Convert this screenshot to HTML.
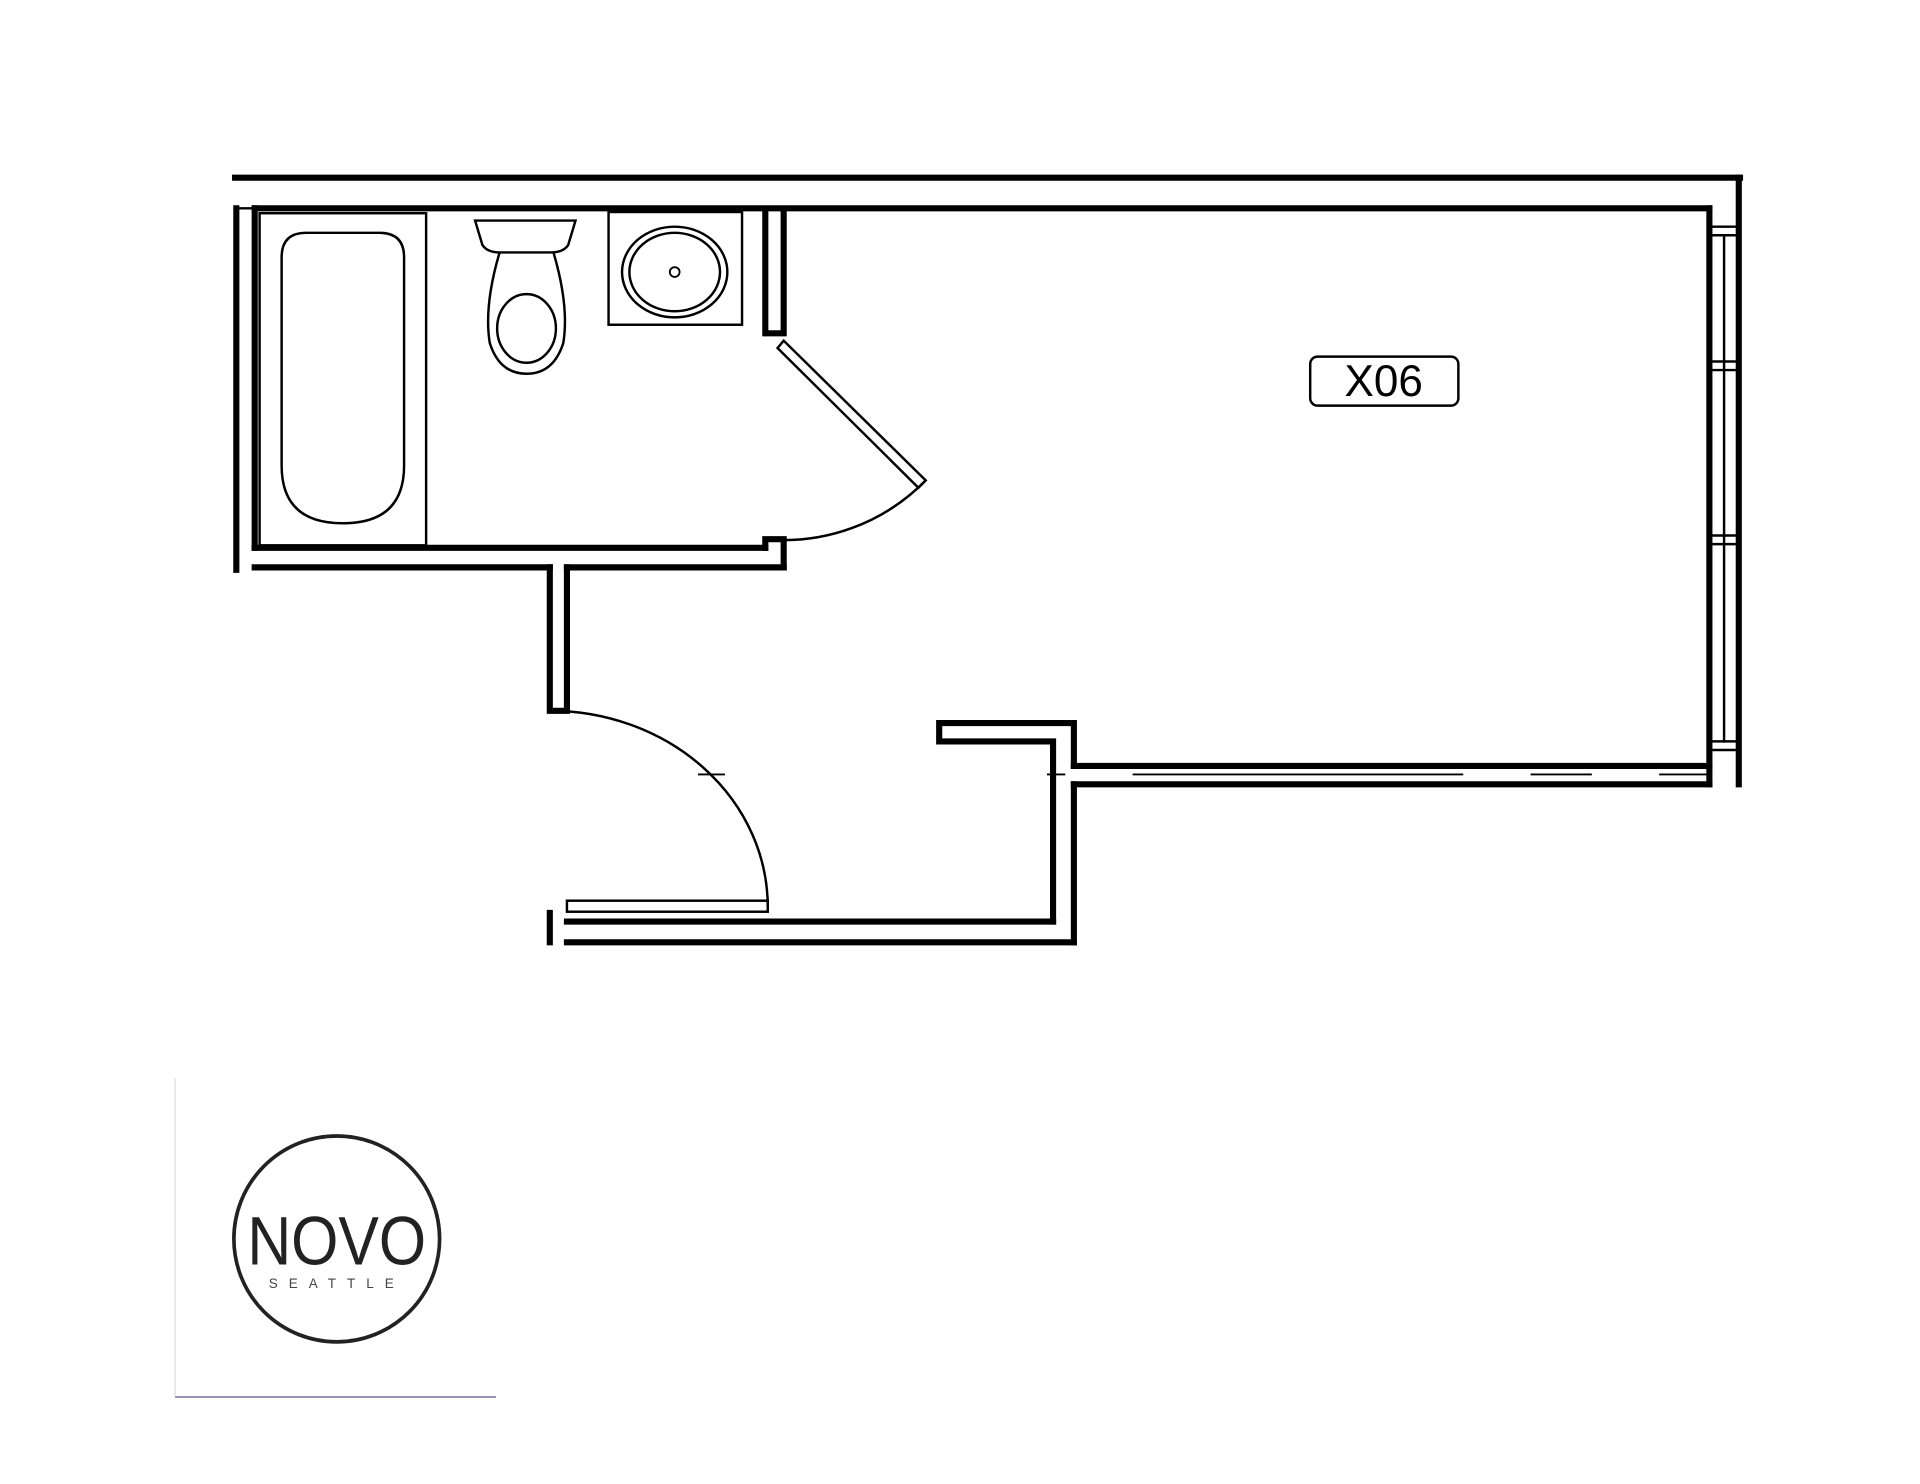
<!DOCTYPE html>
<html><head><meta charset="utf-8"><style>
html,body{margin:0;padding:0;background:#fff;}
svg{display:block}
</style></head><body>
<svg width="1920" height="1484" viewBox="0 0 1568 1211" preserveAspectRatio="none" xmlns="http://www.w3.org/2000/svg">
<rect width="1568" height="1211" fill="#fff"/>
<g stroke="#000" fill="none" stroke-width="5" stroke-linecap="square">
<line x1="192" y1="145" x2="1421" y2="145"/>
<line x1="208" y1="170" x2="1396" y2="170"/>
<line x1="193" y1="170" x2="193" y2="465"/>
<line x1="208" y1="170" x2="208" y2="447"/>
<line x1="193" y1="170" x2="208" y2="170" stroke-width="2"/>
<line x1="1396" y1="170" x2="1396" y2="640"/>
<line x1="1420" y1="145" x2="1420" y2="640"/>
<g stroke-width="2">
<line x1="1396" y1="185" x2="1420" y2="185"/>
<line x1="1396" y1="192" x2="1420" y2="192"/>
<line x1="1396" y1="295" x2="1420" y2="295"/>
<line x1="1396" y1="302" x2="1420" y2="302"/>
<line x1="1396" y1="437" x2="1420" y2="437"/>
<line x1="1396" y1="444" x2="1420" y2="444"/>
<line x1="1396" y1="605" x2="1420" y2="605"/>
<line x1="1396" y1="612" x2="1420" y2="612"/>
<line x1="1408" y1="192" x2="1408" y2="605"/>
</g>
<line x1="208" y1="447" x2="625" y2="447"/>
<line x1="208" y1="463" x2="449" y2="463"/>
<line x1="463" y1="463" x2="640" y2="463"/>
<polyline points="625,172 625,272 640,272 640,172"/>
<polyline points="625,447 625,440 640,440 640,463"/>
<polyline points="449,463 449,580 463,580 463,463"/>
<line x1="463" y1="752" x2="860" y2="752"/>
<line x1="463" y1="769" x2="877" y2="769"/>
<line x1="449" y1="745" x2="449" y2="769"/>
<polyline points="860,752 860,605 767,605 767,590 877,590 877,625"/>
<line x1="877" y1="640" x2="877" y2="769"/>
<line x1="877" y1="625" x2="1396" y2="625"/>
<line x1="877" y1="640" x2="1396" y2="640"/>
</g>
<g stroke="#000" fill="none" stroke-width="1.5">
<line x1="925" y1="632" x2="1195" y2="632"/>
<line x1="1250" y1="632" x2="1300" y2="632"/>
<line x1="1355" y1="632" x2="1396" y2="632"/>
<line x1="855" y1="632" x2="870" y2="632"/>
<line x1="570" y1="632" x2="592" y2="632"/>
<rect x="463" y="735" width="164" height="9" stroke-width="2"/>
<path d="M627,740 A178,160 0 0 0 449,580" stroke-width="2"/>
<polygon points="640,278 635,284 750,398 756,392" stroke-width="2"/>
<path d="M756,392 A162,162 0 0 1 625,440" stroke-width="2"/>
<rect x="212" y="174" width="136" height="271" stroke-width="2"/>
<path d="M250,190 H310 Q330,190 330,210 V380 Q330,427 280,427 Q230,427 230,380 V210 Q230,190 250,190 Z" stroke-width="2"/>
<path d="M388,180 H470 L464,200 Q460,206 450,206 H408 Q398,206 394,200 Z" stroke-width="2"/>
<path d="M408,206 Q395,250 400,280 Q408,305 430,305 Q452,305 460,280 Q465,250 452,206" stroke-width="2"/>
<ellipse cx="430" cy="268" rx="24" ry="28" stroke-width="2"/>
<rect x="497" y="173" width="109" height="92" stroke-width="2"/>
<ellipse cx="551" cy="222" rx="43" ry="37" stroke-width="2"/>
<ellipse cx="551" cy="222" rx="37" ry="32" stroke-width="2"/>
<circle cx="551" cy="222" r="4" stroke-width="1.5"/>
<rect x="1070" y="291" width="121" height="40" rx="6" stroke-width="2"/>
</g>
<text x="1130" y="323" text-anchor="middle" font-family="Liberation Sans, sans-serif" font-size="36">X06</text>
<line x1="143" y1="880" x2="143" y2="1140" stroke="#ddd" stroke-width="1"/>
<line x1="143" y1="1140" x2="405" y2="1140" stroke="#8a80b0" stroke-width="1.5"/>
<circle cx="275" cy="1011" r="84" fill="none" stroke="#222" stroke-width="3"/>
<text x="275" y="1032" text-anchor="middle" font-family="Liberation Sans, sans-serif" font-size="56" fill="#222" textLength="146" lengthAdjust="spacingAndGlyphs">NOVO</text>
<text x="275" y="1051" text-anchor="middle" font-family="Liberation Sans, sans-serif" font-size="11" fill="#444" letter-spacing="9">SEATTLE</text>
</svg>
</body></html>
